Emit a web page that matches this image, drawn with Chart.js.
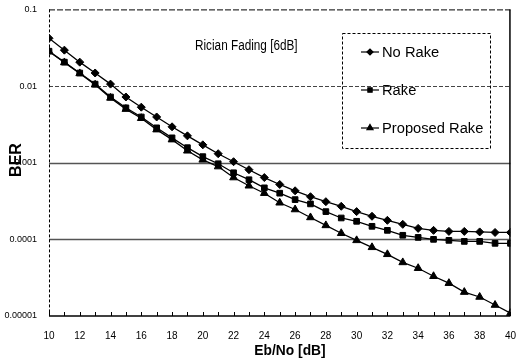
<!DOCTYPE html>
<html>
<head>
<meta charset="utf-8">
<script src="https://cdn.jsdelivr.net/npm/chart.js@4"></script>
<style>
  html, body { margin: 0; padding: 0; background: #fff; }
  #wrap { width: 522px; height: 364px; }
</style>
</head>
<body>
<div id="wrap"><canvas id="berChart" width="522" height="364"></canvas></div>
<script>
// Eb/No sweep, 1 dB steps
const EBNO = [10,11,12,13,14,15,16,17,18,19,20,21,22,23,24,25,26,27,28,29,30,31,32,33,34,35,36,37,38,39,40];

const NO_RAKE = [0.042, 0.0294, 0.0205, 0.0148, 0.0106, 0.0072, 0.0053, 0.00395, 0.00294, 0.00224,
  0.00171, 0.00131, 0.00103, 0.00081, 0.00064, 0.00052, 0.00043, 0.00036, 0.00031, 0.00027,
  0.00023, 0.0002, 0.000177, 0.000157, 0.000139, 0.000131, 0.000127, 0.000127, 0.000125, 0.000123, 0.000123];

const RAKE = [0.0285, 0.0205, 0.0148, 0.0106, 0.0072, 0.0052, 0.00395, 0.00285, 0.00211, 0.00157,
  0.0012, 0.00097, 0.00074, 0.0006, 0.00047, 0.0004, 0.00033, 0.00029, 0.00023, 0.00019,
  0.000172, 0.000148, 0.000131, 0.000113, 0.000106, 0.0001, 0.000097, 0.000094, 0.000094, 0.0000887, 0.0000887];

const PROPOSED = [0.0283, 0.0203, 0.0146, 0.0104, 0.007, 0.005, 0.0038, 0.0027, 0.002, 0.00143,
  0.00109, 0.00089, 0.00064, 0.0005, 0.0004, 0.0003, 0.000245, 0.000193, 0.000152, 0.00012,
  0.000097, 0.0000787, 0.0000638, 0.00005, 0.000042, 0.000033, 0.0000268, 0.0000205, 0.0000177, 0.0000139, 0.0000109];

const Y_TICKS  = [0.00001, 0.0001, 0.001, 0.01, 0.1];
const Y_LABELS = ['0.00001', '0.0001', '0.001', '0.01', '0.1'];
const X_LABEL_STEP = 2;

const FONT = '"Liberation Sans Narrow", "Arial Narrow", "Liberation Sans", Arial, sans-serif';

const toPts = arr => EBNO.map((x, i) => ({ x: x, y: arr[i] }));

const series = [
  { label: 'No Rake',       data: NO_RAKE,  style: 'rectRot',  r: 4 },
  { label: 'Rake',          data: RAKE,     style: 'rect',     r: 4 },
  { label: 'Proposed Rake', data: PROPOSED, style: 'triangle', r: 4.5 },
];

// squeezed text, the original uses a condensed face
function narrowText(ctx, txt, x, y, sx) {
  ctx.save();
  ctx.translate(x, y);
  ctx.scale(sx, 1);
  ctx.fillText(txt, 0, 0);
  ctx.restore();
}

// frame, grid lines, inward ticks, titles and legend box
const decor = {
  id: 'decor',
  beforeDatasetsDraw(chart) {
    const { ctx, chartArea: a, scales: { x, y } } = chart;
    ctx.save();
    Y_TICKS.forEach(v => {
      const py = Math.round(y.getPixelForValue(v)) + 0.5;
      if (v === 0.01) {
        ctx.strokeStyle = '#444'; ctx.lineWidth = 1; ctx.setLineDash([4, 2]);
      } else if (v === 0.001 || v === 0.0001) {
        ctx.strokeStyle = '#555'; ctx.lineWidth = 1.5; ctx.setLineDash([]);
      } else return;
      ctx.beginPath(); ctx.moveTo(a.left, py); ctx.lineTo(a.right, py); ctx.stroke();
    });
    // top + left (dashed), right + bottom (solid)
    ctx.strokeStyle = '#000'; ctx.lineWidth = 1;
    ctx.setLineDash([6, 2]);
    ctx.beginPath(); ctx.moveTo(a.left, a.top + 0.5); ctx.lineTo(a.right, a.top + 0.5); ctx.stroke();
    ctx.setLineDash([3, 2]);
    ctx.beginPath(); ctx.moveTo(a.left + 0.5, a.top); ctx.lineTo(a.left + 0.5, a.bottom); ctx.stroke();
    ctx.setLineDash([]);
    ctx.lineWidth = 1.5;
    ctx.beginPath(); ctx.moveTo(a.right - 0.5, a.top); ctx.lineTo(a.right - 0.5, a.bottom); ctx.stroke();
    ctx.beginPath(); ctx.moveTo(a.left, a.bottom); ctx.lineTo(a.right, a.bottom); ctx.stroke();
    ctx.lineWidth = 1;
    EBNO.forEach(v => {
      const px = Math.round(x.getPixelForValue(v)) + 0.5;
      ctx.beginPath(); ctx.moveTo(px, a.bottom); ctx.lineTo(px, a.bottom - 4); ctx.stroke();
    });
    ctx.restore();
  },
  afterDraw(chart) {
    const { ctx } = chart;
    ctx.save();
    ctx.fillStyle = '#000';
    // axis titles
    ctx.font = 'bold 16px ' + FONT;
    ctx.textAlign = 'center'; ctx.textBaseline = 'middle';
    ctx.save();
    ctx.translate(17, 160); ctx.rotate(-Math.PI / 2);
    ctx.fillText('BER', 0, 0);
    ctx.restore();
    ctx.font = 'bold 15px ' + FONT;
    narrowText(ctx, 'Eb/No [dB]', 290, 351, 0.92);
    // in-plot caption
    ctx.font = '14px ' + FONT;
    ctx.textAlign = 'left';
    narrowText(ctx, 'Rician Fading [6dB]', 195, 46, 0.84);
    // legend
    const lx = 342, ly = 33, lw = 148, lh = 115;
    ctx.strokeStyle = '#000'; ctx.lineWidth = 1;
    ctx.setLineDash([3, 2]);
    ctx.strokeRect(lx + 0.5, ly + 0.5, lw, lh);
    ctx.setLineDash([]);
    ctx.font = '14px ' + FONT;
    series.forEach((s, i) => {
      const yy = 52 + i * 38;
      ctx.lineWidth = 1.2;
      ctx.beginPath(); ctx.moveTo(361, yy); ctx.lineTo(379, yy); ctx.stroke();
      Chart.helpers.drawPoint(ctx, { pointStyle: s.style, radius: s.r - 1, borderWidth: 1 }, 370, yy);
      ctx.fill();
      narrowText(ctx, s.label, 382, yy + 1, 1.05);
    });
    ctx.restore();
  }
};

new Chart(document.getElementById('berChart').getContext('2d'), {
  type: 'line',
  data: {
    datasets: series.map(s => ({
      label: s.label,
      data: toPts(s.data),
      borderColor: '#000',
      backgroundColor: '#000',
      borderWidth: 1.3,
      pointStyle: s.style,
      pointRadius: s.r,
      pointBorderWidth: 1,
      pointBackgroundColor: '#000',
      pointBorderColor: '#000',
      tension: 0,
      fill: false,
    }))
  },
  options: {
    responsive: false,
    animation: false,
    layout: { padding: { left: 0, right: 3, top: 8, bottom: 0 } },
    plugins: { legend: { display: false }, tooltip: { enabled: false } },
    scales: {
      x: {
        type: 'linear',
        min: 10, max: 40,
        grid: { display: false },
        border: { display: false },
        ticks: {
          stepSize: X_LABEL_STEP,
          color: '#000',
          padding: 6,
          maxRotation: 0,
          font: { family: FONT, size: 10 },
        },
        afterFit: s => { s.height = 48; },
      },
      y: {
        type: 'logarithmic',
        min: 0.00001, max: 0.1,
        grid: { display: false },
        border: { display: false },
        afterBuildTicks: s => { s.ticks = Y_TICKS.map(v => ({ value: v })); },
        ticks: {
          color: '#000',
          padding: 4,
          font: { family: FONT, size: 9 },
          callback: v => { const i = Y_TICKS.indexOf(v); return i >= 0 ? Y_LABELS[i] : ''; },
        },
        afterFit: s => { s.width = 49; },
      }
    }
  },
  plugins: [decor]
});
</script>
</body>
</html>
